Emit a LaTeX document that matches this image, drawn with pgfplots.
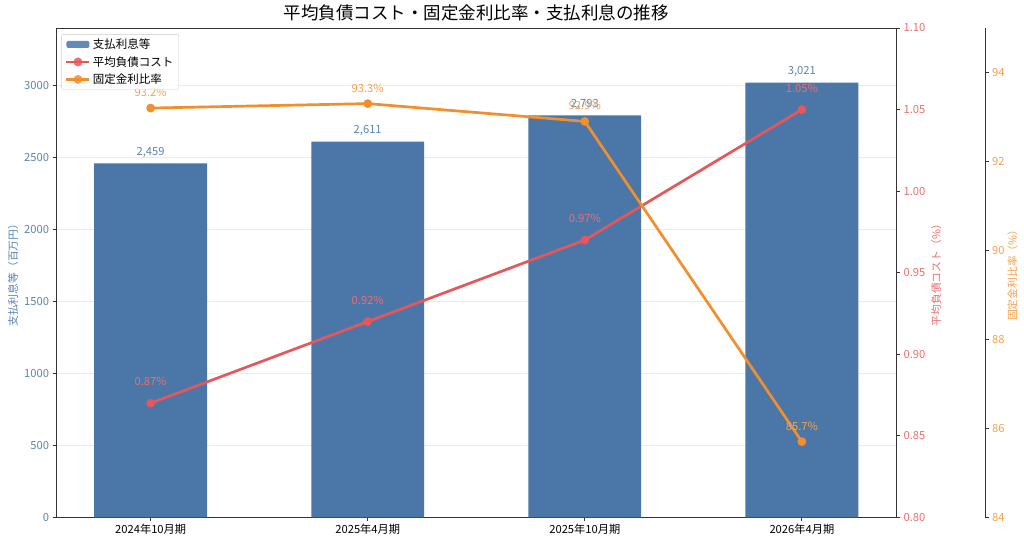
\documentclass[border=0pt]{standalone}
\usepackage{pgfplots}
\pgfplotsset{compat=1.18}
\usepackage{fontspec}
\setmainfont{Noto Sans CJK JP}
\definecolor{barc}{HTML}{4A76A8}
\definecolor{barlab}{HTML}{5A84B4}
\definecolor{redc}{HTML}{E5575A}
\definecolor{redlab}{HTML}{EA6F70}
\definecolor{orc}{HTML}{F28E2B}
\definecolor{orlab}{HTML}{F5A04C}
\definecolor{gridc}{HTML}{EBEBEB}
\pgfmathsetmacro{\xmn}{-0.436}
\pgfmathsetmacro{\xmx}{3.436}
\pgfmathsetmacro{\xmxthree}{\xmn+(\xmx-\xmn)*929/840.5}
\begin{document}
\begin{tikzpicture}
\path[use as bounding box] (0,0) rectangle (1024pt,545pt);
\pgfplotsset{
  base/.style={
    scale only axis, width=840.5pt, height=489.3pt,
    at={(56pt,27.7pt)}, anchor=south west,
    xmin=\xmn, xmax=\xmx,
    tick align=outside, major tick length=3.5pt,
    tick style={black!80, line width=0.8pt},
    tick label style={font=\fontsize{11.2}{13}\selectfont},
    /pgf/number format/assume math mode=true,
    axis line style={black!80, line width=0.8pt},
    label style={font=\fontsize{10.8}{12}\selectfont},
  },
  mk/.style={mark=*, mark size=4.3pt, mark options={solid, fill=#1, draw=#1, line width=0.1pt}},
}
% --- bars (left axis)
\begin{axis}[base,
  ymin=0, ymax=3400,
  ytick={0,500,1000,1500,2000,2500,3000},
  xtick={0,1,2,3},
  xticklabels={2024年10月期,2025年4月期,2025年10月期,2026年4月期},
  xtick pos=bottom, ytick pos=left,
  ymajorgrids, grid style={gridc, line width=0.8pt},
  yticklabel style={text=barlab, /pgf/number format/1000 sep={}},
  ylabel={支払利息等（百万円）},
  ylabel style={text=barlab, yshift=-1pt},
  title={平均負債コスト・固定金利比率・支払利息の推移},
  title style={font=\fontsize{17.5}{20}\selectfont, yshift=-3pt},
]
\addplot[ybar, bar width=0.52, fill=barc, draw=none,
  nodes near coords={\pgfmathprintnumber[fixed,precision=0,1000 sep={,}]{\pgfplotspointmeta}},
  every node near coord/.append style={text=barlab, font=\fontsize{11.2}{13}\selectfont, yshift=2pt}]
  coordinates {(0,2459) (1,2611) (2,2793) (3,3021)};
\end{axis}
% --- average cost (red, right axis)
\begin{axis}[base,
  ymin=0.80, ymax=1.10,
  ytick={0.80,0.85,0.90,0.95,1.00,1.05,1.10},
  axis y line*=right, axis x line=none,
  yticklabel style={text=redlab, /pgf/number format/.cd, fixed, fixed zerofill, precision=2},
  ylabel={平均負債コスト（\%）},
  ylabel style={text=redlab, yshift=1pt},
]
\addplot[redc, line width=2.7pt, mk=redc,
  nodes near coords={\pgfmathprintnumber[fixed,fixed zerofill,precision=2]{\pgfplotspointmeta}\%},
  every node near coord/.append style={text=redlab, font=\fontsize{11.2}{13}\selectfont, yshift=14pt}]
  coordinates {(0,0.87) (1,0.92) (2,0.97) (3,1.05)};
\end{axis}
% --- fixed rate ratio (orange, offset right axis)
\begin{axis}[base, width=929pt,
  xmin=\xmn, xmax=\xmxthree,
  ymin=84, ymax=95,
  ytick={84,86,88,90,92,94},
  axis y line*=right, axis x line=none,
  yticklabel style={text=orlab},
  ylabel={固定金利比率（\%）},
  ylabel style={text=orlab, yshift=4pt},
  legend style={at={(0.0058,0.9875)}, anchor=north west,
    font=\fontsize{11.5}{13.5}\selectfont, draw=black!20, rounded corners=2pt,
    fill=white, fill opacity=0.85, text opacity=1, row sep=2.3pt,
    inner xsep=3.5pt, inner ysep=2.5pt,
    /tikz/every even column/.append style={column sep=2pt}},
  legend cell align=left,
  legend image code/.code={\draw[mark repeat=2,mark phase=2] plot coordinates {(0pt,0pt) (11.5pt,0pt) (23pt,0pt)};},
]
\addlegendimage{area legend, fill=barc, draw=none, legend image code/.code={\fill[barc] (0pt,-3.5pt) rectangle (23pt,3.5pt);}}
\addlegendentry{支払利息等}
\addlegendimage{redc, line width=2.7pt, mk=redc}
\addlegendentry{平均負債コスト}
\addplot[orc, line width=2.7pt, mk=orc,
  nodes near coords={\pgfmathprintnumber[fixed,fixed zerofill,precision=1]{\pgfplotspointmeta}\%},
  every node near coord/.append style={text=orlab, font=\fontsize{11.2}{13}\selectfont, yshift=8pt}]
  coordinates {(0,93.2) (1,93.3) (2,92.9) (3,85.7)};
\addlegendentry{固定金利比率}
\end{axis}
\end{tikzpicture}
\end{document}
